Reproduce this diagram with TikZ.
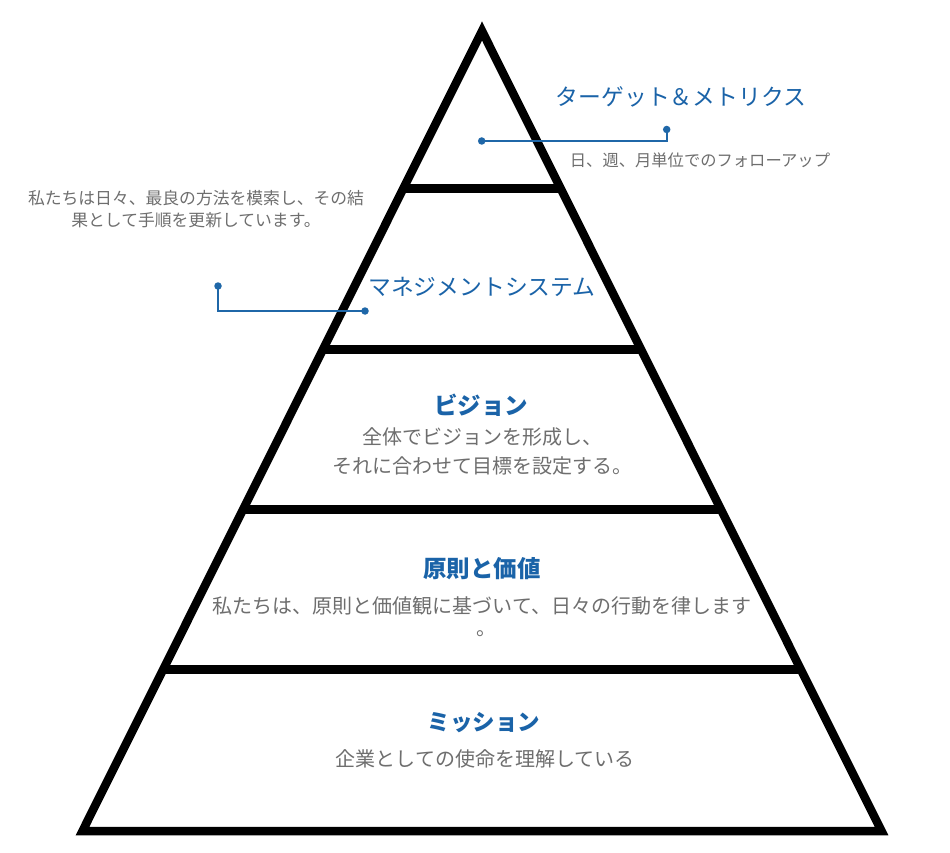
\documentclass[tikz,border=0pt]{standalone}
\usepackage{fontspec}
\setmainfont{Noto Sans CJK JP}
\definecolor{tblue}{HTML}{1A63A8}
\definecolor{cblue}{HTML}{1F67A8}
\definecolor{tgray}{HTML}{6E6E6E}
\begin{document}
\begin{tikzpicture}[x=1pt,y=-1pt,
  title/.style={text=tblue, font=\fontsize{22.8}{22.8}\selectfont, inner sep=0pt},
  btitle/.style={text=tblue, font=\bfseries\fontsize{23.5}{23.5}\selectfont, inner sep=0pt},
  body/.style={text=tgray, font=\fontsize{20}{29}\selectfont, align=center, inner sep=0pt},
  note/.style={text=tgray, font=\fontsize{16.8}{22}\selectfont, align=center, inner sep=0pt},
  dot/.style={circle, fill=cblue, inner sep=0pt, minimum size=7.5pt},
  conn/.style={draw=cblue, line width=1.8pt},
  frame/.style={line width=8.5pt, line join=miter},
  bar/.style={line width=9pt}]
\fill[white] (0,0) rectangle (950,853);
\useasboundingbox (0,0) rectangle (950,853);
% pyramid
\coordinate (apex) at (482,31);
\coordinate (bl) at (82.5,831);
\coordinate (br) at (881.5,831);
\draw[frame] (apex) -- (bl) -- (br) -- cycle;
\path (apex) -- (bl) coordinate[pos=0.1975] (l1) coordinate[pos=0.39875] (l2)
      coordinate[pos=0.5975] (l3) coordinate[pos=0.7975] (l4);
\path (apex) -- (br) coordinate[pos=0.1975] (r1) coordinate[pos=0.39875] (r2)
      coordinate[pos=0.5975] (r3) coordinate[pos=0.7975] (r4);
\draw[bar] (l1) -- (r1);
\draw[bar] (l2) -- (r2);
\draw[bar] (l3) -- (r3);
\draw[bar] (l4) -- (r4);
% connectors
\node[dot] (d1) at (481.7,141) {};
\node[dot] (d2) at (666.7,129.5) {};
\draw[conn] (d1.center) -| (d2.center);
\node[dot] (d3) at (218,286) {};
\node[dot] (d4) at (365,311) {};
\draw[conn] (d3.center) |- (d4.center);
% texts
\node[title] (tm) at (681,97) {ターゲット＆メトリクス};
\node[note, font=\fontsize{16.3}{22}\selectfont] (tmn) at (700,160) {日、週、月単位でのフォローアップ};
\node[note] (msn) at (196,209) {私たちは日々、最良の方法を模索し、その結\\果として手順を更新しています。};
\node[title] (ms) at (482,287) {マネジメントシステム};
\node[btitle] (vi) at (481,405) {ビジョン};
\node[body] (vib) at (482,451.5) {全体でビジョンを形成し、\\それに合わせて目標を設定する。};
\node[btitle] (pv) at (482,569) {原則と価値};
\node[body] (pvb) at (482,606) {私たちは、原則と価値観に基づいて、日々の行動を律します};
\node[body, anchor=base west] (pvb2) at (476.6,635.6) {。};
\node[btitle, font=\bfseries\fontsize{22.5}{22.5}\selectfont] (mi) at (484,723) {ミッション};
\node[body] (mib) at (485,759) {企業としての使命を理解している};
\end{tikzpicture}
\end{document}
